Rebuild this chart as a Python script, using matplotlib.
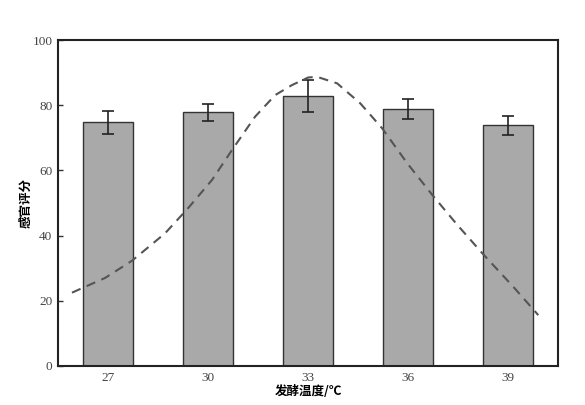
import matplotlib
matplotlib.use("Agg")
import matplotlib.pyplot as plt
import numpy as np

categories = ["27", "30", "33", "36", "39"]
scores = [74.8, 77.9, 82.8, 78.8, 73.8]
errors = [3.5, 2.6, 5.0, 3.0, 2.9]

# dashed trend curve (x in category units, 0 = "27")
curve_x = [-0.36, -0.03, 0.24, 0.57, 0.80, 1.04, 1.24, 1.47, 1.67, 1.84, 2.00, 2.09,
           2.29, 2.52, 2.74, 2.99, 3.24, 3.49, 3.74, 4.05, 4.30]
curve_y = [22.5, 27.0, 32.3, 40.7, 48.4, 57.1, 66.3, 76.5, 83.1, 86.2, 88.5, 88.7,
           86.7, 80.6, 72.9, 62.2, 52.5, 43.3, 34.6, 24.3, 15.6]

plt.rcParams['font.family'] = ['Noto Sans CJK SC', 'DejaVu Sans']

fig = plt.figure(figsize=(5.85, 4.05), dpi=100)
ax = fig.add_axes([0.0991, 0.0963, 0.8553, 0.8049])

x = np.arange(len(categories))
ax.bar(x, scores, width=0.5, color='#a9a9a9', edgecolor='#333333', linewidth=1.0, zorder=2)
ax.errorbar(x, scores, yerr=errors, fmt='none', ecolor='#222222', elinewidth=1.2,
            capsize=4, capthick=1.2, zorder=3)
ax.plot(curve_x, curve_y, linestyle=(0, (4.5, 3.2)), color='#555555', linewidth=1.5, zorder=4)

ax.set_xlim(-0.5, 4.5)
ax.set_ylim(0, 100)
ax.set_xticks(x)
ax.set_xticklabels(categories)
ax.set_yticks([0, 20, 40, 60, 80, 100])
ax.tick_params(direction='in', length=3.5, width=1, colors='#333333', labelsize=9.5,
               labelcolor='#444444', pad=4)
for lab in ax.get_xticklabels() + ax.get_yticklabels():
    lab.set_family(['Liberation Serif', 'DejaVu Serif'])
for s in ax.spines.values():
    s.set_linewidth(1.5)
    s.set_color('#222222')

ax.set_xlabel('发酵温度/℃', fontsize=9, fontweight='bold', labelpad=1)
ax.set_ylabel('感官评分', fontsize=9, fontweight='bold', labelpad=0)

fig.savefig('out.png', dpi=100)
